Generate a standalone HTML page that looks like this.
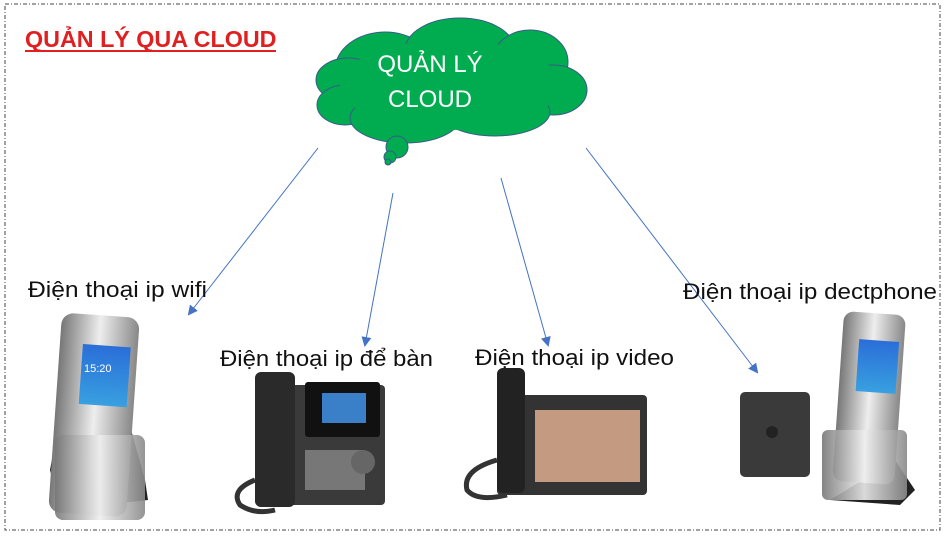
<!DOCTYPE html><html><head><meta charset="utf-8"><style>
body{margin:0;background:#fff;width:945px;height:539px;overflow:hidden}
svg{display:block;font-family:"Liberation Sans","DejaVu Sans",sans-serif}
</style></head><body>
<svg width="945" height="539" viewBox="0 0 945 539">
<defs><marker id="a" markerWidth="10" markerHeight="10" refX="8" refY="5" orient="auto" markerUnits="userSpaceOnUse"><path d="M0,0 L10,5 L0,10 Z" fill="#4472c4"/></marker>
<linearGradient id="s" x1="0" x2="1"><stop offset="0" stop-color="#777"/><stop offset=".5" stop-color="#eee"/><stop offset="1" stop-color="#888"/></linearGradient>
<linearGradient id="scr" x1="0" y1="0" x2="0" y2="1"><stop offset="0" stop-color="#2a6ed8"/><stop offset="1" stop-color="#38a0e0"/></linearGradient></defs>
<rect x="5" y="4" width="935" height="526" fill="none" stroke="#444" stroke-width="1" stroke-dasharray="4,2,1,2"/>
<text x="25" y="47" font-size="23.3" font-weight="bold" fill="#e02020">QUẢN LÝ QUA CLOUD</text>
<line x1="25" y1="51" x2="276" y2="51" stroke="#e02020" stroke-width="2"/>
<!-- cloud -->
<g fill="#00ac4f" stroke="#3a5a8c" stroke-width="1">
<ellipse cx="385" cy="70" rx="50" ry="38"/><ellipse cx="460" cy="50" rx="55" ry="32"/><ellipse cx="530" cy="62" rx="38" ry="32"/><ellipse cx="553" cy="90" rx="34" ry="25"/><ellipse cx="348" cy="80" rx="32" ry="22"/><ellipse cx="345" cy="105" rx="28" ry="20"/><ellipse cx="405" cy="118" rx="55" ry="25"/><ellipse cx="495" cy="112" rx="55" ry="24"/>
<ellipse cx="450" cy="85" rx="110" ry="45" stroke="none"/>
<circle cx="397" cy="147" r="11"/><circle cx="390" cy="157" r="6"/><circle cx="388" cy="162" r="3"/>
</g>
<text x="430" y="72" font-size="24" fill="#fff" text-anchor="middle">QUẢN LÝ</text>
<text x="430" y="107" font-size="24" fill="#fff" text-anchor="middle">CLOUD</text>
<g stroke="#4472c4" stroke-width="1" marker-end="url(#a)">
<line x1="318" y1="148" x2="189" y2="314"/><line x1="393" y1="193" x2="365" y2="345"/><line x1="501" y1="178" x2="548" y2="345"/><line x1="586" y1="148" x2="757" y2="372"/></g>
<g font-size="22.5" fill="#111" lengthAdjust="spacingAndGlyphs"><text x="28" y="297" textLength="179" lengthAdjust="spacingAndGlyphs">Điện thoại ip wifi</text><text x="220" y="366" textLength="213" lengthAdjust="spacingAndGlyphs">Điện thoại ip để bàn</text><text x="475" y="365" textLength="199" lengthAdjust="spacingAndGlyphs">Điện thoại ip video</text><text x="683" y="299" textLength="254" lengthAdjust="spacingAndGlyphs">Điện thoại ip dectphone</text></g>
<!-- wifi phone -->
<path d="M130,426 L145,480 L148,500 L60,510 L50,470 L57,432 Z" fill="#222"/>
<rect x="55" y="315" width="78" height="200" rx="12" fill="url(#s)" transform="rotate(4 94 415)"/>
<rect x="78" y="345" width="48" height="60" fill="url(#scr)" transform="rotate(4 94 415)"/>
<text x="84" y="372" font-size="11" fill="#fff">15:20</text>
<rect x="55" y="435" width="90" height="85" rx="8" fill="url(#s)" opacity=".9"/>
<!-- desk phone -->
<rect x="255" y="385" width="130" height="120" rx="4" fill="#3a3a3a"/><rect x="255" y="372" width="40" height="135" rx="6" fill="#2a2a2a"/>
<rect x="305" y="382" width="75" height="55" rx="3" fill="#111"/><rect x="322" y="393" width="44" height="30" fill="#3a80c8"/>
<g fill="#777"><rect x="305" y="450" width="60" height="40"/></g><circle cx="363" cy="462" r="12" fill="#666"/>
<path d="M255,480 q-25,10 -15,25 q15,10 35,5" stroke="#333" stroke-width="5" fill="none"/>
<!-- video phone -->
<rect x="497" y="395" width="150" height="100" rx="4" fill="#333"/><rect x="535" y="410" width="105" height="72" fill="#c49a80"/>
<rect x="497" y="368" width="28" height="125" rx="6" fill="#222"/>
<path d="M497,460 q-35,10 -30,30 q10,12 40,5" stroke="#333" stroke-width="5" fill="none"/>
<!-- dect -->
<rect x="740" y="392" width="70" height="85" rx="5" fill="#3a3a3a"/><circle cx="772" cy="432" r="6" fill="#222"/>
<path d="M895,460 L915,490 L900,505 L830,500 Z" fill="#222"/>
<rect x="838" y="313" width="62" height="170" rx="10" fill="url(#s)" transform="rotate(4 869 400)"/>
<rect x="855" y="340" width="40" height="52" fill="url(#scr)" transform="rotate(4 869 400)"/>
<rect x="822" y="430" width="85" height="70" rx="6" fill="url(#s)" opacity=".9"/>
</svg></body></html>
